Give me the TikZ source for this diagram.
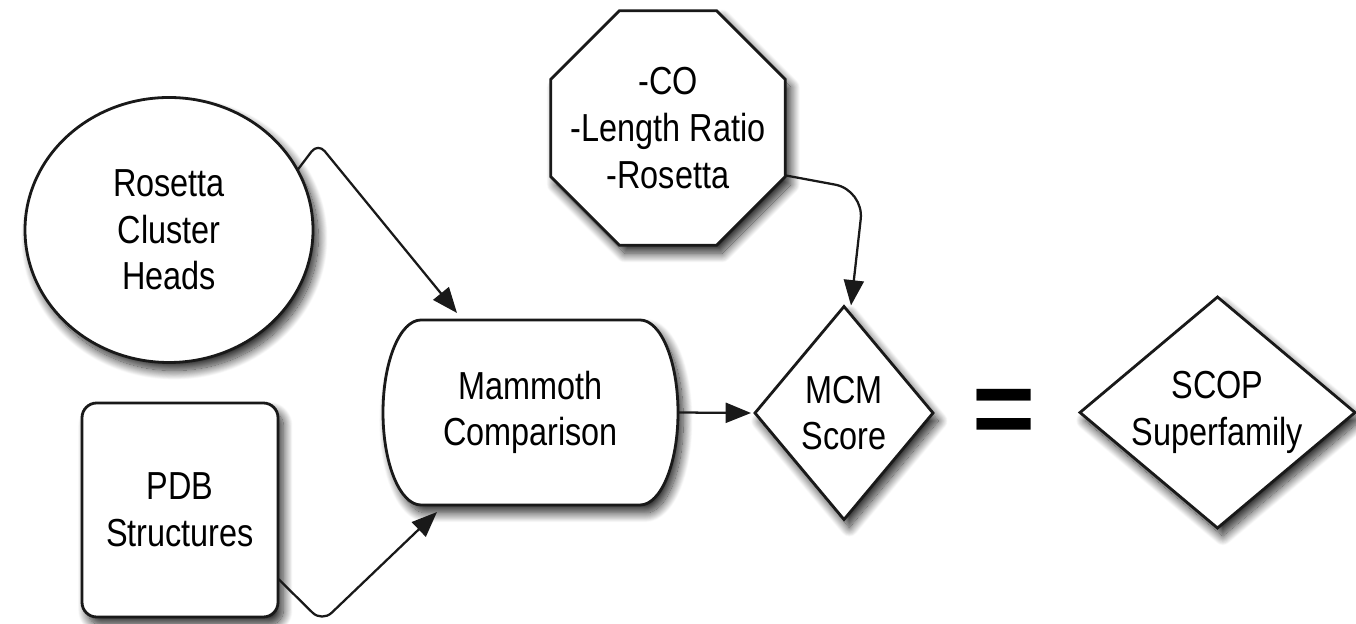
\documentclass[tikz,border=0pt]{standalone}
\usepackage{fontspec}
\setmainfont{Liberation Sans}[FakeStretch=0.83]
\newfontfamily\eqfont{Liberation Sans}
\usetikzlibrary{shapes.geometric,arrows.meta,calc,shadows.blur}

\begin{document}
\begin{tikzpicture}[x=0.75pt,y=0.75pt,
  every node/.style={inner sep=0pt, outer sep=0pt},
  softshadow/.style={blur shadow={shadow xshift=4pt, shadow yshift=-6pt,
      shadow blur radius=7pt, shadow blur steps=20, shadow opacity=85}},
  shapebox/.style={draw=black!90, line width=2.1pt, fill=white, softshadow},
  lbl/.style={font=\fontsize{29.3pt}{35pt}\selectfont, align=center, text=black},
  conn/.style={draw=black!90, line width=1.7pt, -{Triangle[length=19pt,width=15pt]}},
]
\useasboundingbox (0,0) rectangle (1356,624);

% source shapes
\node[shapebox, ellipse, minimum width=216pt, minimum height=198.75pt, lbl]
  (circ) at (169,394) {Rosetta\\Cluster\\Heads};
\node[shapebox, rectangle, rounded corners=11pt, minimum width=147pt,
  minimum height=160.5pt, lbl] (pdb) at (180,114) {PDB\\Structures};

% weighting terms
\node[shapebox, regular polygon, regular polygon sides=8, minimum size=190.5pt]
  (oct) at (668,496) {};
\node[lbl] at (oct) {-CO\\-Length Ratio\\-Rosetta};

% comparison step: flat top and bottom, elliptic ends
\node[minimum width=221.25pt, minimum height=138.75pt] (mam) at (530.5,211.5) {};
\draw[shapebox] ($(mam.north west)+(38,0)$) -- ($(mam.north east)+(-38,0)$)
  arc[start angle=90, end angle=-90, x radius=38, y radius=92.5]
  -- ($(mam.south west)+(38,0)$)
  arc[start angle=270, end angle=90, x radius=38, y radius=92.5] -- cycle;
\node[lbl] at (mam) {Mammoth\\Comparison};

% decisions
\node[shapebox, diamond, minimum width=133.5pt, minimum height=159.75pt]
  (mcm) at (844,211) {};
\node[lbl] at (mcm) {MCM\\Score};

\node[font=\eqfont\bfseries\fontsize{81pt}{81pt}\selectfont] (eq) at (1004,207) {=};

\node[shapebox, diamond, minimum width=206.25pt, minimum height=173.25pt]
  (scop) at (1217.5,211.5) {};
\node[lbl] at (scop) {SCOP\\Superfamily};

% connectors
\coordinate (k1) at (318,481);
\draw[conn, rounded corners=8pt] (circ.25) -- (k1) -- ($(mam.north west)+(74,7)$);
\coordinate (k2) at (322,2);
\draw[conn, rounded corners=10pt] (pdb.-35) -- (k2) -- ($(mam.south west)+(54,-7)$);
\coordinate (k3) at (864,434);
\draw[conn, rounded corners=22pt] (oct.-22.5) -- (k3) -- ($(mcm.north)+(7,1)$);
\draw[conn] (mam.east) -- ($(mcm.west)+(-4,0)$);
\end{tikzpicture}
\end{document}
